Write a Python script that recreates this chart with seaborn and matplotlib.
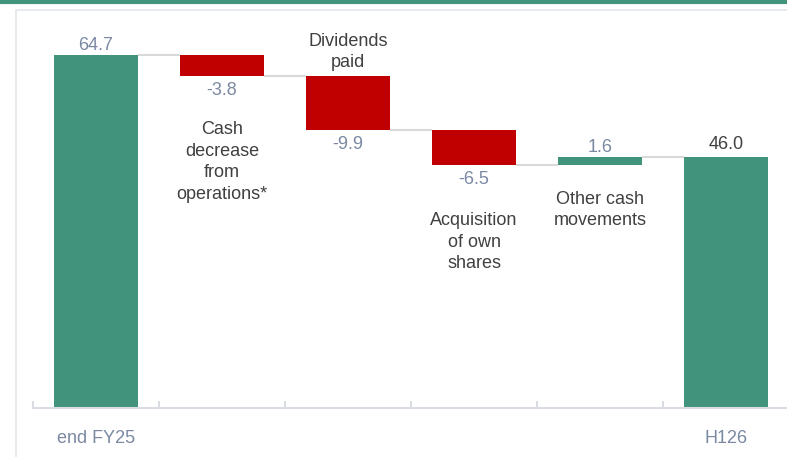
import numpy as np
import matplotlib
matplotlib.use("Agg")
import matplotlib.pyplot as plt
from matplotlib.lines import Line2D
import seaborn as sns

# datos del waterfall
steps = ["end FY25", "ops", "dividends", "buyback", "other", "H126"]
values = [64.7, -3.8, -9.9, -6.5, 1.6, 46.0]
is_total = [True, False, False, False, False, True]
tick_labels = ["end FY25", "", "", "", "", "H126"]
step_names = ["", "Cash\ndecrease\nfrom\noperations*", "Dividends\npaid",
              "Acquisition\nof own\nshares", "Other cash\nmovements", ""]
value_labels = ["64.7", "-3.8", "-9.9", "-6.5", "1.6", "46.0"]

green = "#42937b"
red = "#c00000"
label_blue = "#7b89a3"
dark = "#404040"
light = "#d9dce3"

# calcular bases y alturas
bottoms, heights, levels = [], [], []
run = 0.0
for v, tot in zip(values, is_total):
    if tot:
        bottoms.append(0.0)
        heights.append(v)
        run = v
    else:
        new = run + v
        bottoms.append(min(run, new))
        heights.append(abs(v))
        run = new
    levels.append(run)

colors = [green if (tot or v > 0) else red for v, tot in zip(values, is_total)]

sns.set_style("white")
plt.rcParams['font.family'] = ['Liberation Sans', 'DejaVu Sans']

fig = plt.figure(figsize=(7.87, 4.57), dpi=100)
ax = fig.add_axes([33 / 787, 49 / 457, 756 / 787, 378 / 457])

sns.barplot(x=steps, y=heights, bottom=bottoms, color=green, width=0.667,
            errorbar=None, ax=ax, zorder=2)
for p, c in zip(ax.patches, colors):
    p.set_facecolor(c)
    p.set_edgecolor("none")

# lineas conectoras
for i in range(len(steps) - 1):
    ax.hlines(levels[i], i + 0.333, i + 1 - 0.333, color="#d9d9d9", lw=1.5, zorder=1)

ax.set_xlim(-0.5, 5.5)
ax.set_ylim(0, 69.3)

# etiquetas de valores
px = 69.3 / 378
for i, (lab, v, tot) in enumerate(zip(value_labels, values, is_total)):
    top = bottoms[i] + heights[i]
    if v > 0:
        off = 4 if i == 5 else 1
        ax.text(i, top + off * px, lab, ha="center", va="bottom", fontsize=13,
                color=dark if i == 5 else label_blue)
    else:
        ax.text(i, bottoms[i] - 6 * px, lab, ha="center", va="top", fontsize=13,
                color=label_blue)

# nombres de los pasos
name_y = [0, 162, 52, 242, 210, 0]
for i, name in enumerate(step_names):
    if name:
        ax.text(i, (408 - name_y[i]) / 5.456, name, ha="center", va="center",
                fontsize=13, color=dark, linespacing=1.36)

# ejes
for s in ["top", "right", "left"]:
    ax.spines[s].set_visible(False)
ax.spines["bottom"].set_color(light)
ax.spines["bottom"].set_linewidth(1.5)
ax.set_yticks([])
ax.set_xticks(range(6))
ax.set_xticklabels(tick_labels, fontsize=13, color=label_blue)
ax.tick_params(axis="x", which="major", bottom=True, length=0, pad=16)
ax.set_xticks(np.arange(-0.5, 6.0, 1.0), minor=True)
ax.tick_params(axis="x", which="minor", bottom=True, direction="in", length=5,
               color=light, width=1.5)
ax.set_xlabel("")
ax.set_ylabel("")

# marco de la figura
fig.add_artist(Line2D([0, 1], [1 - 1.5 / 457, 1 - 1.5 / 457], color=green, lw=3,
                      transform=fig.transFigure))
fig.add_artist(Line2D([16 / 787, 1], [1 - 10 / 457, 1 - 10 / 457], color="#e3e6ec", lw=1.2,
                      transform=fig.transFigure))
fig.add_artist(Line2D([16 / 787, 16 / 787], [0, 1 - 10 / 457], color="#e3e6ec", lw=1.2,
                      transform=fig.transFigure))

fig.savefig("out.png", dpi=100)
